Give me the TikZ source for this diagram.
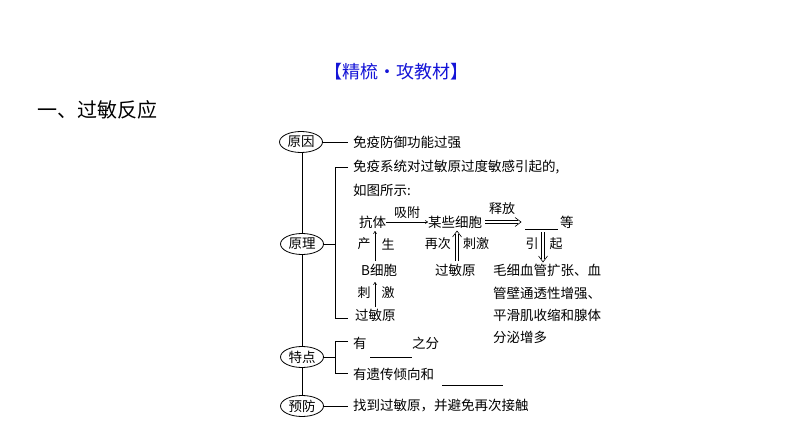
\documentclass[tikz,border=0pt]{standalone}
\usepackage{fontspec}
\setmainfont{Noto Sans CJK SC}
\usetikzlibrary{arrows.meta,shapes.geometric}
\definecolor{titleblue}{RGB}{20,20,215}
\tikzset{
  txt/.style={anchor=west,inner sep=0pt,font=\fontsize{13.5}{16}\selectfont},
  lbl/.style={inner sep=0pt,font=\fontsize{13}{16}\selectfont},
  ell/.style={draw,line width=0.8pt,ellipse,minimum width=43pt,minimum height=21pt,inner sep=0pt,fill=white,font=\fontsize{13.5}{16}\selectfont},
  ln/.style={line width=0.8pt},
  dl/.style={line width=0.6pt},
  sarr/.style={line width=0.6pt,-{To[length=3pt,width=3.5pt]}},
}
\begin{document}
\begin{tikzpicture}[x=1pt,y=-1pt]
\useasboundingbox (0,0) rectangle (794,446);
% headings
\node[inner sep=0pt,text=titleblue,font=\fontsize{18}{20}\selectfont] (title) at (396,72) {【精梳·攻教材】};
\node[anchor=west,inner sep=0pt,font=\fontsize{20}{22}\selectfont] (sec) at (37,110) {一、过敏反应};
% trunk
\coordinate (tt) at (302,150);
\coordinate (tb) at (302,400);
\draw[ln] (tt) -- (tb);
% ellipses
\node[ell] (yy) at (301,142) {原因};
\node[ell] (yl) at (302,244) {原理};
\node[ell] (td) at (302,357) {特点};
\node[ell] (yf) at (302,406) {预防};
% 原因
\coordinate (yye) at (348,142);
\draw[ln] (yy.east) -- (yye);
\node[txt] (t1) at (353,142) {免疫防御功能过强};
% 原理 bracket
\coordinate (b1) at (335,244);
\coordinate (b1t) at (335,167);
\coordinate (b1b) at (335,318);
\coordinate (b1te) at (348,167);
\coordinate (b1be) at (348,318);
\draw[ln] (yl.east) -- (b1);
\draw[ln] (b1te) -- (b1t) -- (b1b) -- (b1be);
\node[txt] (t2) at (353,167) {免疫系统对过敏原过度敏感引起的,};
\node[txt] (t3) at (353,190) {如图所示:};
% flow
\node[txt] (kt) at (359,222) {抗体};
\node[txt] (mx) at (428,222) {某些细胞};
\coordinate (bl1) at (525,229);
\coordinate (bl2) at (558,229);
\draw[line width=0.6pt] (bl1) -- (bl2);
\node[txt] (deng) at (560,222) {等};
\draw[sarr] (kt.east) -- (mx.west) node[lbl,midway,above=3pt] (xf) {吸附};
% double arrow 释放
\coordinate (sfs) at (485,222);
\coordinate (sfe) at (521,222);
\draw[dl] ([yshift=1.4pt]sfs) -- ([yshift=1.4pt,xshift=-3pt]sfe);
\draw[dl] ([yshift=-1.4pt]sfs) -- ([yshift=-1.4pt,xshift=-3pt]sfe);
\draw[dl] ([xshift=-6pt,yshift=4.5pt]sfe) -- (sfe) -- ([xshift=-6pt,yshift=-4.5pt]sfe);
\node[lbl] (sf) at (502,209) {释放};
\node[txt] (bx) at (361,270) {B细胞};
\node[txt] (gm1) at (355,315) {过敏原};
\node[txt] (gm2) at (435,270) {过敏原};
\coordinate (a1s) at (375,307);
\coordinate (a1e) at (375,282);
\coordinate (a2s) at (375,261);
\coordinate (a2e) at (375,231);
\draw[sarr] (a1s) -- (a1e);
\draw[sarr] (a2s) -- (a2e);
\node[lbl] (ch) at (364,244) {产};
\node[lbl] (sh) at (388,244) {生};
\node[lbl] (ci1) at (364,293) {刺};
\node[lbl] (ji1) at (388,293) {激};
% double arrow up
\coordinate (zs) at (457,261);
\coordinate (ze) at (457,231);
\draw[dl] ([xshift=1.4pt]zs) -- ([xshift=1.4pt,yshift=-3pt]ze);
\draw[dl] ([xshift=-1.4pt]zs) -- ([xshift=-1.4pt,yshift=-3pt]ze);
\draw[dl] ([xshift=-4.5pt,yshift=-6pt]ze) -- (ze) -- ([xshift=4.5pt,yshift=-6pt]ze);
\node[lbl,anchor=east] (zc) at (451,244) {再次};
\node[lbl,anchor=west] (cj) at (463,244) {刺激};
\node[txt] (m1) at (493,270) {毛细血管扩张、血};
\node[txt] (m2) at (493,293) {管壁通透性增强、};
\node[txt] (m3) at (493,315) {平滑肌收缩和腺体};
\node[txt] (m4) at (493,337) {分泌增多};
% double arrow down
\coordinate (ds) at (543,232);
\coordinate (de) at (543,262);
\draw[dl] ([xshift=1.4pt]ds) -- ([xshift=1.4pt,yshift=3pt]de);
\draw[dl] ([xshift=-1.4pt]ds) -- ([xshift=-1.4pt,yshift=3pt]de);
\draw[dl] ([xshift=-4.5pt,yshift=6pt]de) -- (de) -- ([xshift=4.5pt,yshift=6pt]de);
\node[lbl] (yin) at (532,244) {引};
\node[lbl] (qi) at (556,244) {起};
% 特点 bracket
\coordinate (b2) at (335,357);
\coordinate (b2t) at (335,341);
\coordinate (b2b) at (335,373);
\coordinate (b2te) at (348,341);
\coordinate (b2be) at (348,373);
\draw[ln] (td.east) -- (b2);
\draw[ln] (b2te) -- (b2t) -- (b2b) -- (b2be);
\node[txt] (y1) at (353,343) {有};
\coordinate (c1) at (370,357);
\coordinate (c2) at (412,357);
\draw[line width=0.6pt] (c1) -- (c2);
\node[txt] (zf) at (412,343) {之分};
\node[txt] (y2) at (353,374) {有遗传倾向和};
\coordinate (c3) at (442,385);
\coordinate (c4) at (503,385);
\draw[line width=0.6pt] (c3) -- (c4);
% 预防
\coordinate (yfe) at (348,406);
\draw[ln] (yf.east) -- (yfe);
\node[txt] (t4) at (353,406) {找到过敏原，并避免再次接触};
\end{tikzpicture}
\end{document}
